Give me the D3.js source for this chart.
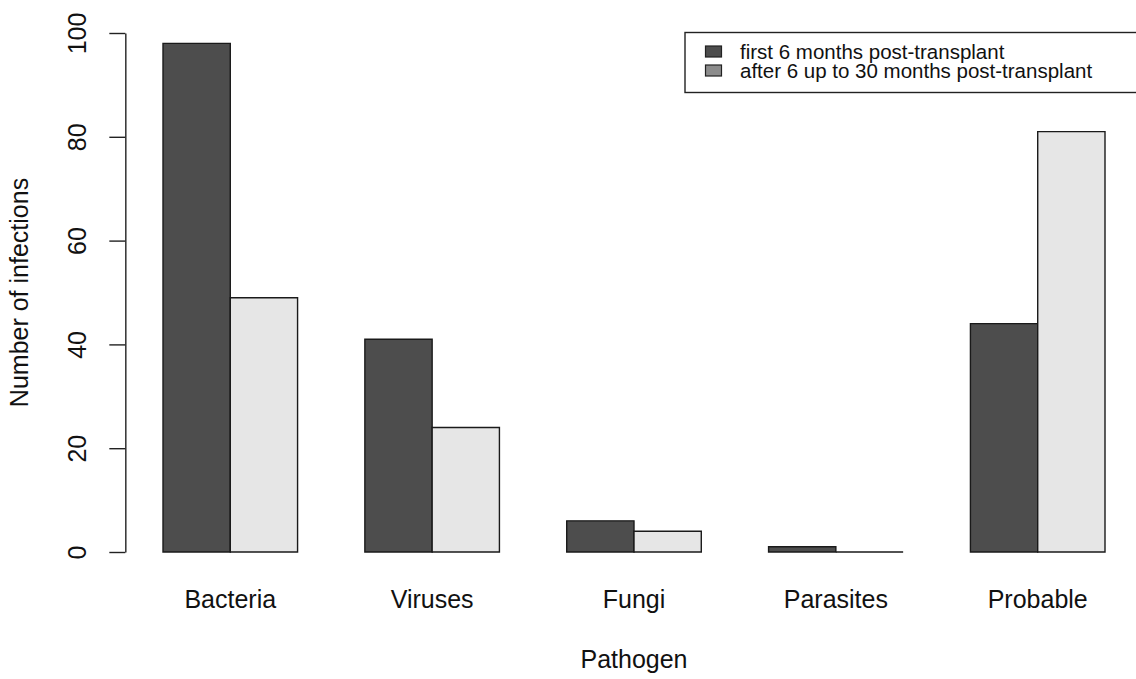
<!DOCTYPE html>
<html>
<head>
<meta charset="utf-8">
<script src="https://cdn.jsdelivr.net/npm/d3@7"></script>
<style>
  body { margin: 0; background: #fff; }
  svg { display: block; font-family: "Liberation Sans", Arial, Helvetica, sans-serif; }
</style>
</head>
<body>
<div id="chart"></div>
<script>
// data
const pathogens = ["Bacteria", "Viruses", "Fungi", "Parasites", "Probable"];
const first6 = [98, 41, 6, 1, 44];
const after6 = [49, 24, 4, 0, 81];
const seriesNames = ["first 6 months post-transplant", "after 6 up to 30 months post-transplant"];
const yTicks = [0, 20, 40, 60, 80, 100];

const W = 1136, H = 679;
const barFill = ["#4d4d4d", "#e6e6e6"];
const legendFill = ["#4d4d4d", "#8c8c8c"];

const svg = d3.select("#chart").append("svg")
  .attr("width", W)
  .attr("height", H);

// R barplot style units: bar i of group g starts at 1 + 3*g + i
let x = d3.scaleLinear().domain([1, 15]).range([163, 1105]);
let y = d3.scaleLinear().domain([0, 100]).range([552, 33]);

const plotLeft = x(0.44), plotRight = x(15.56);

let bars = [];
pathogens.forEach(function(p, g){
  bars.push({g: g, s: 0, v: first6[g]});
  bars.push({g: g, s: 1, v: after6[g]});
});

// paths so a zero bar still shows its outline on the baseline
svg.append("g").selectAll("path")
  .data(bars).enter().append("path")
    .attr("d", function(d){
      let x0 = x(1 + 3*d.g + d.s), x1 = x(2 + 3*d.g + d.s);
      return "M" + x0 + "," + y(0) + "V" + y(d.v) + "H" + x1 + "V" + y(0) + "Z";
    })
    .attr("fill", d => barFill[d.s])
    .attr("stroke", "#1a1a1a")
    .attr("stroke-width", 1.4);

// category labels
svg.append("g").selectAll("text")
  .data(pathogens).enter().append("text")
    .attr("x", (d, i) => x(2 + 3*i))
    .attr("y", 608)
    .attr("text-anchor", "middle")
    .style("font-size", "25px")
    .attr("fill", "#111")
    .text(d => d);

// y axis
let yAxis = svg.append("g")
  .attr("transform", "translate(" + plotLeft + ",0)")
  .call(d3.axisLeft(y).tickValues(yTicks).tickSize(16).tickSizeOuter(0));
yAxis.select(".domain").attr("stroke", "#222").attr("stroke-width", 1.4);
yAxis.selectAll(".tick line").attr("stroke", "#222").attr("stroke-width", 1.4);
yAxis.selectAll(".tick text")
  .attr("x", null).attr("dy", null)
  .attr("transform", "translate(-39,0) rotate(-90)")
  .attr("text-anchor", "middle")
  .attr("fill", "#111")
  .style("font-size", "25px")
  .style("font-family", "\"Liberation Sans\", Arial, Helvetica, sans-serif");

// axis titles
svg.append("text")
  .attr("transform", "translate(28," + ((12 + 573) / 2) + ") rotate(-90)")
  .attr("text-anchor", "middle")
  .style("font-size", "25px")
  .attr("fill", "#111")
  .text("Number of infections");

svg.append("text")
  .attr("x", (plotLeft + plotRight) / 2)
  .attr("y", 668)
  .attr("text-anchor", "middle")
  .style("font-size", "25px")
  .attr("fill", "#111")
  .text("Pathogen");

// legend
let legend = svg.append("g");
legend.append("rect")
  .attr("x", 685).attr("y", 32.5)
  .attr("width", 470).attr("height", 60)
  .attr("fill", "white")
  .attr("stroke", "#222")
  .attr("stroke-width", 1.4);

seriesNames.forEach(function(name, i){
  let base = 59 + i * 19;
  legend.append("rect")
    .attr("x", 705.5).attr("y", base - 13)
    .attr("width", 16).attr("height", 11)
    .attr("fill", legendFill[i])
    .attr("stroke", "#222")
    .attr("stroke-width", 1.2);
  legend.append("text")
    .attr("x", 740).attr("y", base)
    .style("font-size", "20.5px")
    .attr("fill", "#111")
    .text(name);
});
</script>
</body>
</html>
